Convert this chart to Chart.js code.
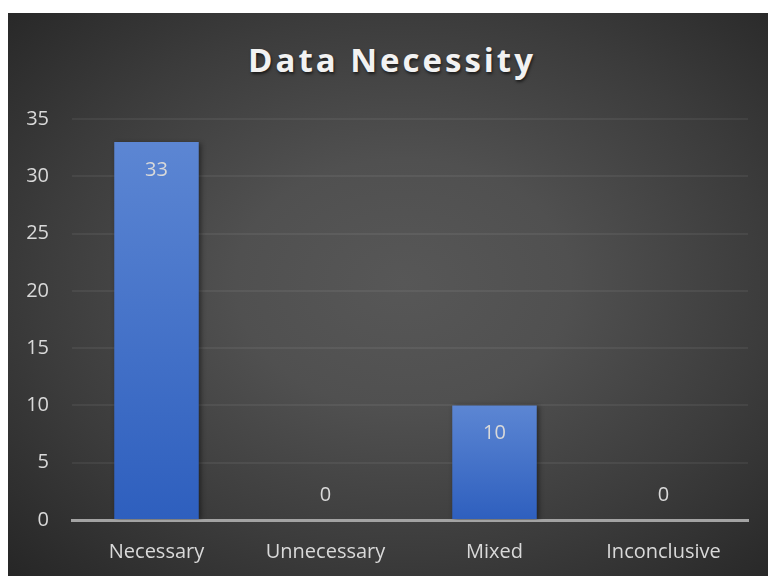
<!DOCTYPE html>
<html>
<head>
<meta charset="utf-8">
<script src="https://cdn.jsdelivr.net/npm/chart.js"></script>
<style>
  body { margin: 0; background: #fff; }
  #wrap {
    position: absolute; left: 8px; top: 13px; width: 760px; height: 563px;
    background: radial-gradient(ellipse at 52% 48%, #575757 0%, #505050 30%, #3c3c3c 65%, #262626 100%);
  }
  #title {
    position: absolute; left: 0; top: 30px; width: 760px; padding-left: 8px; box-sizing: border-box;
    text-align: center; font: bold 33px "Open Sans"; line-height: 33px; letter-spacing: 3px;
    color: #f2f2f2; text-shadow: 1px 2px 3px rgba(0,0,0,0.6);
  }
  canvas { position: absolute; left: 0; top: 0; }
</style>
</head>
<body>
<div id="wrap">
  <div id="title">Data Necessity</div>
  <canvas id="necessity" width="760" height="563"></canvas>
</div>
<script>
// Data
let categories = Array.of("Necessary", "Unnecessary", "Mixed", "Inconclusive");
let counts = Array.of(33, 0, 10, 0);
let yMin = 0, yMax = 35, yStep = 5;

let ctx = document.getElementById("necessity").getContext("2d");

// per-bar vertical gradient, lighter at the top
function barFill(c) {
    let chart = c.chart;
    if (!chart.chartArea || c.type !== "data") return "#4472c4";
    let y = chart.scales.y;
    let top = y.getPixelForValue(c.raw);
    let base = y.getPixelForValue(0);
    if (top >= base) return "#4472c4";
    let g = chart.ctx.createLinearGradient(0, top, 0, base);
    g.addColorStop(0, "#5c86d3");
    g.addColorStop(1, "#2e5fbe");
    return g;
}

let barShadow = {
    id: "barShadow",
    beforeDatasetsDraw(chart) {
        let c = chart.ctx;
        c.save();
        c.shadowColor = "rgba(0,0,0,0.45)";
        c.shadowBlur = 5;
        c.shadowOffsetX = 2;
        c.shadowOffsetY = 1;
    },
    afterDatasetsDraw(chart) {
        chart.ctx.restore();
    }
};

// value labels: inside the top of the bar, or just above the axis for zeros
let valueLabels = {
    id: "valueLabels",
    afterDatasetsDraw(chart) {
        let c = chart.ctx;
        let meta = chart.getDatasetMeta(0);
        let zeroY = chart.scales.y.getPixelForValue(0);
        c.save();
        c.font = '20px "Open Sans"';
        c.fillStyle = "#d9d9d9";
        c.textAlign = "center";
        c.textBaseline = "middle";
        meta.data.forEach((bar, i) => {
            let v = counts[i];
            let y = v > 0 ? bar.y + 28 : zeroY - 25;
            c.fillText(String(v), bar.x, y);
        });
        c.restore();
    }
};

let necessityChart = new Chart(ctx, {
    type: "bar",
    data: {
        labels: categories,
        datasets: [{
            label: "Count",
            data: counts,
            backgroundColor: barFill,
            borderWidth: 0,
            categoryPercentage: 1,
            barPercentage: 0.5
        }]
    },
    options: {
        responsive: false,
        animation: false,
        layout: { padding: { top: 106, right: 20, left: 0, bottom: 0 } },
        plugins: {
            legend: { display: false },
            title: { display: false },
            tooltip: { enabled: false }
        },
        scales: {
            x: {
                afterFit(scale) { scale.height = 56; },
                grid: { display: false, drawTicks: false },
                border: { display: true, color: "#a3a3a3", width: 3 },
                ticks: { color: "#d9d9d9", padding: 20, font: { family: "Open Sans", size: 20 } }
            },
            y: {
                min: yMin,
                max: yMax,
                afterFit(scale) { scale.width = 64; },
                grid: { color: "rgba(255,255,255,0.06)", lineWidth: 2, drawTicks: false },
                border: { display: false },
                ticks: { stepSize: yStep, color: "#d9d9d9", padding: 23, font: { family: "Open Sans", size: 20 } }
            }
        }
    },
    plugins: [barShadow, valueLabels]
});
</script>
</body>
</html>
